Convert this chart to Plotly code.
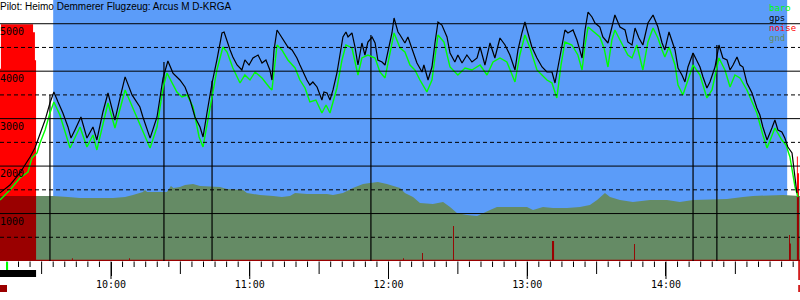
import numpy as np
import pandas as pd
import plotly.graph_objects as go

# ---------------- data (time = minutes after 09:00, values in metres) ----------------
gps_t = [12.0,16.3,20.6,25.0,27.1,29.3,31.5,33.6,35.3,37.1,
         39.2,41.4,42.7,44.4,47.0,49.6,52.2,53.9,56.5,58.7,
         61.7,63.9,66.1,69.1,72.5,73.8,76.9,79.9,82.5,84.6,
         86.8,89.8,92.0,94.2,96.3,98.5,99.8,101.5,103.7,105.8,
         108.0,108.9,110.2,111.5,112.7,114.5,116.6,117.9,119.7,121.4,
         123.6,125.3,127.0,128.7,129.6,130.5,131.8,133.9,135.2,136.5,
         138.3,140.4,141.7,143.0,144.7,146.0,147.3,149.1,149.9,151.2,
         152.1,153.4,154.7,156.0,157.7,159.0,160.3,161.6,162.5,164.2,
         165.5,166.8,168.5,169.8,171.1,172.9,174.2,175.4,177.2,178.5,
         179.8,181.5,182.4,184.1,185.0,187.1,188.4,190.6,192.3,194.5,
         195.3,197.1,198.8,200.1,201.4,203.1,205.3,206.6,208.7,210.0,
         211.8,213.9,216.1,218.3,219.6,221.7,223.9,226.0,228.2,230.4,
         232.5,234.7,236.0,237.7,239.0,240.3,242.0,244.2,246.4,248.5,
         250.7,252.0,253.3,255.0,256.3,257.6,259.8,261.5,263.7,265.0,
         266.3,268.0,269.3,271.4,272.7,274.9,276.6,277.9,280.1,282.3,
         283.5,285.3,286.6,288.3,290.0,292.2,294.4,296.5,298.3,299.5,
         301.3,303.9,305.2,306.9,308.2,309.5,311.7,313.4,314.7,316.0,
         317.7,319.0,321.2,322.9,324.6,326.4,327.7,329.0,330.7,332.0,
         333.3,335.0,337.2,339.3,340.6,341.9,343.7,345.8,347.1,348.4,
         350.1,351.4,352.7,354.5,355.8,356.6]
gps_alt = [1435,1600,1855,2190,2380,2700,2970,3330,3560,3350,
           3120,2825,2590,2760,3035,2590,2825,2550,3140,3540,
           2970,3435,3880,3500,3245,3035,2590,3035,3855,4215,
           3960,3815,3667,3393,3035,2824,2613,3119,3751,4236,
           4805,4826,4615,4447,4299,4130,4025,4236,4130,4278,
           4341,4173,4236,4025,3814,4447,4868,4720,4615,4510,
           4447,4278,4130,3983,3814,3709,3772,3667,3562,3393,
           3562,3541,3393,3604,3962,4383,4720,4826,4720,4805,
           4510,4130,4594,4341,4615,4720,4594,4236,4194,4130,
           4447,4805,5121,4826,4763,4594,4720,4383,4173,3983,
           4130,3814,4088,4594,5036,4973,4720,4383,4194,4341,
           4173,4341,4194,4278,4510,4130,4594,4278,4699,4552,
           4341,4025,4447,4805,5036,4805,4510,4278,4088,3983,
           3983,3751,4088,4594,4868,4805,4868,4657,4278,4868,
           5247,5142,5015,4931,4720,4594,4931,5184,4931,4868,
           4615,4552,4910,4699,4552,5015,5184,4931,4594,4447,
           4826,4447,4067,3920,3772,4088,4383,4194,4088,3878,
           3646,3772,4088,4552,4278,4236,4025,4130,4299,4130,
           4088,3751,3541,3224,3077,2824,2550,2803,2972,2761,
           2719,2592,2403,2276,1707,1433]

baro_t = [12.0,16.3,20.6,24.1,25.8,28.0,29.3,31.5,33.6,35.3,
          37.9,42.3,46.6,49.6,52.2,53.9,58.7,61.7,66.1,71.2,
          76.9,79.9,82.5,84.2,88.5,90.7,92.9,95.5,98.1,99.8,
          101.5,103.7,105.8,108.4,110.2,112.7,115.8,117.9,120.1,122.3,
          125.3,128.7,129.6,131.8,133.9,136.5,139.6,141.7,143.9,146.0,
          148.6,151.2,153.0,154.7,157.7,159.9,161.6,164.2,166.8,168.5,
          171.1,174.2,176.3,178.5,180.6,182.4,185.0,187.1,189.3,191.4,
          193.6,196.6,198.8,200.1,201.4,204.0,206.6,210.0,213.1,216.1,
          219.6,222.6,225.2,228.2,231.2,234.7,236.8,239.0,241.2,244.2,
          248.5,250.7,252.8,254.6,256.3,259.3,261.9,263.7,265.0,266.3,
          269.3,271.4,273.2,274.9,276.6,277.9,280.1,283.5,285.3,287.4,
          290.0,292.2,294.4,296.5,298.3,299.5,301.3,303.9,305.2,307.3,
          309.5,311.7,314.7,317.7,319.9,322.9,325.5,327.7,329.8,332.0,
          335.0,337.2,339.3,341.9,343.7,345.4,347.1,350.1,351.9,353.6,
          355.8,357.1]
baro_alt = [1286,1497,1750,1876,2171,2276,2487,2761,3119,3351,
            3077,2382,2824,2403,2656,2340,3330,2803,3604,3035,
            2382,2824,3646,3962,3562,3456,3498,3245,2613,2403,
            2866,3498,4025,4510,4404,4067,3751,3920,3814,3983,
            3857,3646,3604,4552,4447,4236,4067,3814,3646,3351,
            3393,3119,3288,3119,3646,4236,4552,4489,3920,4278,
            4341,4278,3983,3857,4341,4805,4489,4404,4130,4025,
            3814,3562,3814,4341,4763,4615,4088,3920,4067,4025,
            4130,3920,4194,4278,4194,3772,4341,4763,4489,4025,
            3814,3751,3435,4130,4615,4552,4341,4025,4552,4931,
            4805,4720,4489,4088,4657,4868,4657,4341,4278,4552,
            4025,4615,4910,4699,4447,4299,4510,4130,3709,3498,
            3814,4130,3920,3435,3604,4278,4025,3667,3920,3857,
            3604,3351,3119,2656,2382,2592,2803,2550,2445,2192,
            1560,1349]

gnd_t = [12.0,27.6,34.9,41.4,46.6,60.9,66.1,69.5,73.8,74.7,
         75.6,84.2,85.9,87.0,89.8,92.0,95.5,98.5,107.1,110.2,
         117.1,118.8,124.4,130.1,133.9,137.4,139.6,144.7,153.4,156.0,
         160.3,164.6,169.0,172.0,175.4,179.3,185.0,187.1,190.6,193.6,
         199.2,203.6,206.6,209.6,213.9,218.3,220.9,223.9,226.9,232.5,
         239.9,242.5,246.8,251.1,257.2,262.8,267.1,270.2,273.6,275.8,
         280.1,285.7,293.1,300.4,306.0,311.7,326.4,333.3,337.6,350.6,
         357.95]
gnd_alt = [1370,1370,1370,1349,1328,1328,1349,1391,1455,1497,
           1455,1455,1581,1540,1560,1602,1623,1581,1560,1518,
           1497,1433,1391,1370,1349,1370,1433,1412,1412,1391,
           1433,1539,1623,1644,1665,1623,1539,1433,1349,1223,
           1202,1244,1138,1012,970,949,1012,1075,1138,1138,
           1138,1075,1138,1117,1117,1138,1181,1286,1433,1349,
           1286,1244,1286,1286,1244,1286,1307,1349,1370,1391,
           1370]

noise_t = [12.0,12.4,26.3,27.1,27.6,43.1,43.5,67.8,68.2,186.3,186.7,
           194.5,194.9,207.9,208.3,250.7,251.6,286.2,286.6,
           353.2,353.6,354.0,356.6,357.0,357.5,357.95]
noise_val = [4050,4990,4820,4230,25,60,25,60,25,60,25,
             170,25,740,25,420,25,360,25,
             550,370,25,2200,1850,25,25]

marker_t = [33.6, 82.9, 103.7, 172.4, 311.7, 322.0]
marker_alt = [3500, 4195, 3800, 4765, 4385, 4550]

task_window = [35.0, 352.4]      # blue band
engine_run = [12.0, 27.6]         # black bar under the axis
takeoff_t = 14.6
landing_t = 357.5

y_labels = [1000, 2000, 3000, 4000, 5000]
grid_values = [500, 1000, 1500, 2000, 2500, 3000, 3500, 4000, 4500, 5000]
legend_names = ["baro", "gps", "noise", "gnd"]
title_text = "Pilot: Heimo Demmerer Flugzeug: Arcus M D-KRGA"

# ---------------- styling ----------------
BLUE = "#5b9cf9"
GND = "#658b65"
RED = "#ff0000"
DARKRED = "#9a0000"
GREEN = "#00ff00"
MONO = "DejaVu Sans Mono"

base = pd.Timestamp("2021-07-01 09:00:00")


def tm(m):
    if isinstance(m, (list, tuple, np.ndarray)):
        return [None if v is None else base + pd.Timedelta(minutes=v) for v in m]
    return base + pd.Timedelta(minutes=m)


x_range = [tm(12.0), tm(357.95)]
tick5 = list(pd.date_range(x_range[0].ceil("5min"), x_range[1], freq="5min"))
tick60 = list(pd.date_range(x_range[0].ceil("60min"), x_range[1], freq="60min"))

noise_clip = np.minimum(np.array(noise_val, float),
                        np.interp(noise_t, gnd_t, gnd_alt))

fig = go.Figure()

fig.add_trace(go.Scatter(x=tm(noise_t), y=noise_val, mode="lines", line=dict(width=0, shape="hv"),
                         fill="tozeroy", fillcolor=RED, hoverinfo="skip"))
fig.add_trace(go.Scatter(x=tm(gnd_t), y=gnd_alt, mode="lines", line=dict(width=0),
                         fill="tozeroy", fillcolor=GND, hoverinfo="skip"))
fig.add_trace(go.Scatter(x=tm(noise_t), y=noise_clip, mode="lines", line=dict(width=0, shape="hv"),
                         fill="tozeroy", fillcolor=DARKRED, hoverinfo="skip"))
mx, my = [], []
for t, a in zip(marker_t, marker_alt):
    mx += [t, t, None]
    my += [0, a, None]
fig.add_trace(go.Scatter(x=tm(mx), y=my, mode="lines", line=dict(color="black", width=1.2),
                         hoverinfo="skip"))
fig.add_trace(go.Scatter(x=tm(baro_t), y=baro_alt, mode="lines", line=dict(color=GREEN, width=1.4),
                         xaxis="x2", yaxis="y"))
fig.add_trace(go.Scatter(x=tm(gps_t), y=gps_alt, mode="lines", line=dict(color="black", width=1.2),
                         xaxis="x3", yaxis="y"))

PH = 261.0
shapes = []
shapes.append(dict(type="rect", xref="x", yref="paper", x0=tm(task_window[0]), x1=tm(task_window[1]),
                   y0=0, y1=1, fillcolor=BLUE, line=dict(width=0), layer="below"))
for v in grid_values:
    shapes.append(dict(type="line", xref="paper", yref="y", x0=0, x1=1, y0=v, y1=v,
                       line=dict(color="black", width=1, dash="solid" if v % 1000 == 0 else "4px,3px"),
                       layer="above"))
# tick comb under the time axis: 5 min short, 30 min medium, 60 min long
for t in tick5:
    if t.minute == 0:
        ln = 18
    elif t.minute == 30:
        ln = 13
    else:
        ln = 6
    shapes.append(dict(type="line", xref="x", yref="paper", x0=t, x1=t, y0=-0.5 / PH, y1=-ln / PH,
                       line=dict(color="black", width=1)))
shapes.append(dict(type="rect", xref="x", yref="paper", x0=tm(engine_run[0]), x1=tm(engine_run[1]),
                   y0=-9 / PH, y1=-16 / PH, fillcolor="black", line=dict(width=0)))
shapes.append(dict(type="rect", xref="x", yref="paper", x0=tm(takeoff_t), x1=tm(takeoff_t + 0.9),
                   y0=-1 / PH, y1=-9 / PH, fillcolor=GREEN, line=dict(width=0)))
shapes.append(dict(type="rect", xref="x", yref="paper", x0=tm(landing_t - 0.3), x1=tm(landing_t + 0.4),
                   y0=0, y1=-19 / PH, fillcolor="#cc0000", line=dict(width=0)))
shapes.append(dict(type="rect", xref="x", yref="paper", x0=tm(landing_t - 0.3), x1=tm(landing_t + 0.4),
                   y0=-24 / PH, y1=-31 / PH, fillcolor="#cc0000", line=dict(width=0)))
shapes.append(dict(type="rect", xref="paper", yref="paper", x0=0, x1=7 / 800,
                   y0=-24 / PH, y1=-31 / PH, fillcolor=DARKRED, line=dict(width=0)))

annotations = []
annotations.append(dict(text=title_text, xref="paper", yref="paper", x=0, y=1, xanchor="left",
                        yanchor="top", showarrow=False, borderpad=0, xshift=-1,
                        font=dict(family="Liberation Sans", size=10, color="black")))
for v in y_labels:
    annotations.append(dict(text=str(v), xref="paper", yref="y", x=0, y=v, xanchor="left",
                            yanchor="top", showarrow=False, borderpad=0, yshift=-1, xshift=-1,
                            font=dict(family=MONO, size=10, color="black")))
leg_colors = [GREEN, "black", RED, GND]
for i, (name, c) in enumerate(zip(legend_names, leg_colors)):
    annotations.append(dict(text=name, xref="paper", yref="paper", x=768 / 800,
                            y=(PH - (7.5 + 10 * i)) / PH, xanchor="left", yanchor="middle",
                            showarrow=False, borderpad=0,
                            font=dict(family=MONO, size=9, color=c)))

common = dict(type="date", range=x_range, showgrid=False, showline=False, zeroline=False,
              fixedrange=True)

fig.update_layout(
    width=800, height=300,
    margin=dict(l=0, r=0, t=0, b=39, pad=0),
    paper_bgcolor="white", plot_bgcolor="white",
    showlegend=False,
    shapes=shapes, annotations=annotations,
    xaxis=dict(**common, ticks="", showticklabels=False),
    xaxis2=dict(**common, ticks="", showticklabels=False, overlaying="x", anchor="y", side="bottom"),
    xaxis3=dict(**common, tickmode="array", tickvals=tick60, ticks="outside", ticklen=14,
                tickwidth=1, tickcolor="black", showticklabels=True, tickformat="%H:%M",
                tickfont=dict(family=MONO, size=10, color="black"),
                overlaying="x", anchor="y", side="bottom"),
    yaxis=dict(range=[0, 5500], showgrid=False, showticklabels=False, ticks="",
               zeroline=False, showline=False, fixedrange=True),
)

fig.write_html("out.html")
